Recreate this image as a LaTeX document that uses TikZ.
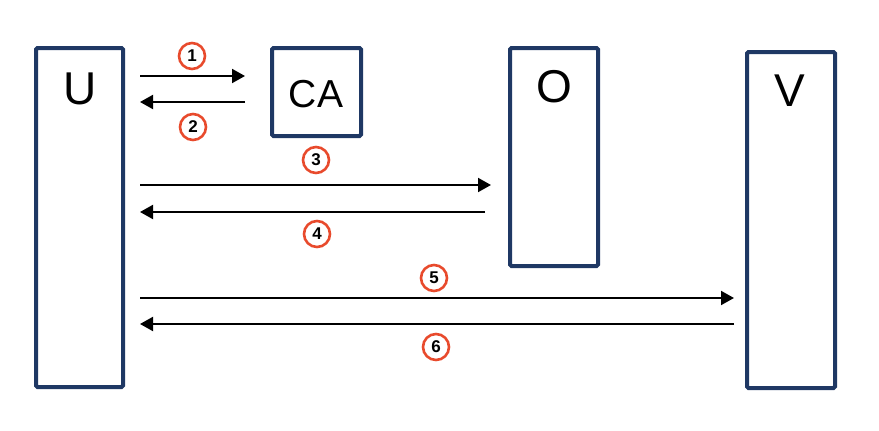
\documentclass[tikz,border=0pt]{standalone}
\usepackage{fontspec}
\setmainfont{Liberation Sans}
\usetikzlibrary{arrows.meta,calc}
\definecolor{navy}{HTML}{1F3864}
\definecolor{ored}{HTML}{E84A2C}
\tikzset{
  box/.style={draw=navy, line width=4pt, rounded corners=1.5pt, inner sep=0pt},
  big/.style={font=\fontsize{46}{46}\selectfont, inner sep=0pt, anchor=center},
  mid/.style={font=\fontsize{39}{39}\selectfont, inner sep=0pt, anchor=center},
  arr/.style={line width=2pt, -{Triangle[length=13pt,width=14pt]}},
  num/.style={circle, draw=ored, line width=2.6pt, minimum size=26pt, inner sep=0pt, font=\bfseries\fontsize{17}{17}\selectfont},
}
\begin{document}
\begin{tikzpicture}[x=1pt,y=-1pt]
\useasboundingbox (0,0) rectangle (879,431);
% boxes
\node[box, minimum width=87pt, minimum height=339pt] (U) at (79.5,217.5) {};
\node[box, minimum width=89pt, minimum height=88pt] (CA) at (316.5,92) {};
\node[box, minimum width=88pt, minimum height=218pt] (O) at (554,157) {};
\node[box, minimum width=88pt, minimum height=336pt] (V) at (791,220) {};
% titles
\node[big] (Ut) at (80,89) {U};
\node[mid] (CAt) at (316,94) {CA};
\node[big] (Ot) at (554,87) {O};
\node[big] (Vt) at (790,91) {V};
% arrows
\draw[arr] ($(U.east|-0,76)+(15,0)$) -- ($(CA.west|-0,76)+(-25,0)$);
\draw[arr] ($(CA.west|-0,102)+(-25,0)$) -- ($(U.east|-0,102)+(15,0)$);
\draw[arr] ($(U.east|-0,185)+(15,0)$) -- ($(O.west|-0,185)+(-17,0)$);
\draw[arr] ($(O.west|-0,212)+(-23,0)$) -- ($(U.east|-0,212)+(15,0)$);
\draw[arr] ($(U.east|-0,298)+(15,0)$) -- ($(V.west|-0,298)+(-11,0)$);
\draw[arr] ($(V.west|-0,324)+(-11,0)$) -- ($(U.east|-0,324)+(15,0)$);
% step numbers
\node[num] (n1) at (192,56) {1};
\node[num] (n2) at (193,127) {2};
\node[num] (n3) at (316,160) {3};
\node[num] (n4) at (317,234) {4};
\node[num] (n5) at (434,278) {5};
\node[num] (n6) at (436,347) {6};
\end{tikzpicture}
\end{document}
